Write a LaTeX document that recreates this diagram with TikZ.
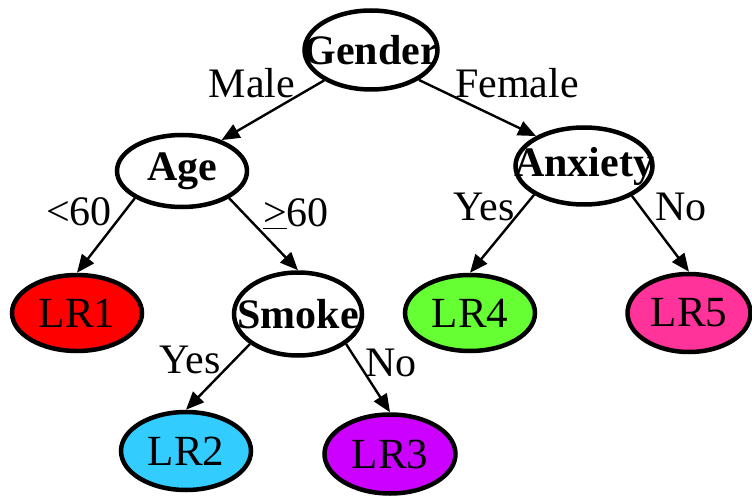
\documentclass[tikz,border=0pt]{standalone}
\usepackage{fontspec}
\setmainfont{Liberation Serif}
\usetikzlibrary{shapes.geometric,arrows.meta}
\definecolor{leafred}{RGB}{255,0,0}
\definecolor{leafblue}{RGB}{51,204,255}
\definecolor{leafpurple}{RGB}{204,0,255}
\definecolor{leafgreen}{RGB}{102,255,51}
\definecolor{leafpink}{RGB}{255,51,153}
\begin{document}
\begin{tikzpicture}[x=1pt,y=-1pt,
  oval/.style={ellipse,draw,line width=4.5pt,inner sep=0pt},
  split/.style={oval,font=\fontsize{42}{46}\selectfont\bfseries},
  leaf/.style={oval,font=\fontsize{43}{46}\selectfont},
  edge/.style={line width=2.4pt,-{Triangle[length=18pt,width=15pt]}},
  elabel/.style={font=\fontsize{42}{46}\selectfont,inner sep=0pt}]
\useasboundingbox (0,0) rectangle (752,497);

% decision nodes
\node[split,minimum width=133pt,minimum height=79pt] (gender) at (371,50) {\makebox[0pt]{Gender}};
\node[split,minimum width=130pt,minimum height=72pt] (age) at (182,171) {\makebox[0pt]{Age}};
\node[split,minimum width=137pt,minimum height=77pt] (anxiety) at (584,166) {\makebox[0pt]{Anxiety}};
\node[split,minimum width=128pt,minimum height=83pt] (smoke) at (298,314) {\makebox[0pt]{Smoke}};

% leaf models
\node[leaf,fill=leafred,minimum width=130pt,minimum height=76pt] (lr1) at (77,313) {\makebox[0pt]{LR1}};
\node[leaf,fill=leafblue,minimum width=130pt,minimum height=78pt] (lr2) at (186,451) {\makebox[0pt]{LR2}};
\node[leaf,fill=leafpurple,minimum width=131pt,minimum height=79pt] (lr3) at (390,454) {\makebox[0pt]{LR3}};
\node[leaf,fill=leafgreen,minimum width=130pt,minimum height=76pt] (lr4) at (470,313) {\makebox[0pt]{LR4}};
\node[leaf,fill=leafpink,minimum width=123pt,minimum height=78pt] (lr5) at (689,313) {\makebox[0pt]{LR5}};

% branches
\draw[edge] (gender.213) -- (age.38);
\draw[edge] (gender.328) -- (anxiety.148);
\draw[edge] (age.210) -- (lr1.north);
\draw[edge] (age.330) -- (smoke.north);
\draw[edge] (anxiety.210) -- (lr4.north);
\draw[edge] (anxiety.328) -- (lr5.north);
\draw[edge] (smoke.212) -- (lr2.north);
\draw[edge] (smoke.328) -- (lr3.north);

% branch labels
\node[elabel] (lmale) at (252,83) {Male};
\node[elabel] (lfemale) at (517,83) {Female};
\node[elabel] (llt) at (79,212) {<60};
\node[elabel] (lge) at (296,214) {\underline{>}60};
\node[elabel] (lyes1) at (484,207) {Yes};
\node[elabel] (lno1) at (681,207) {No};
\node[elabel] (lyes2) at (190,360) {Yes};
\node[elabel] (lno2) at (391,363) {No};
\end{tikzpicture}
\end{document}
